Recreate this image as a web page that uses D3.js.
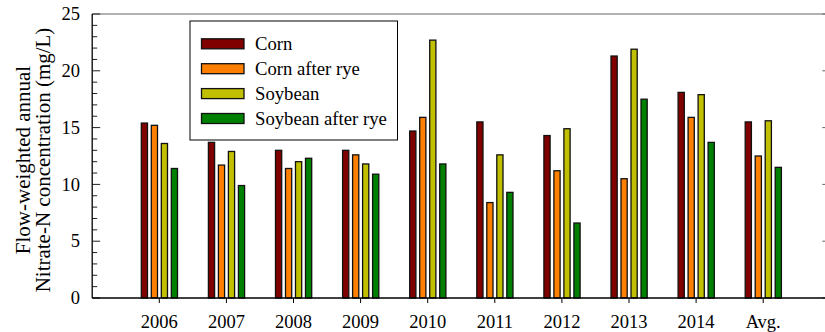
<!DOCTYPE html>
<html>
<head>
<meta charset="utf-8">
<script src="https://cdn.jsdelivr.net/npm/d3@7"></script>
<style>
  html, body { margin: 0; padding: 0; background: #fff; }
  svg { display: block; }
</style>
</head>
<body>
<svg id="chart" width="825" height="332"></svg>
<script>
// Flow-weighted annual nitrate-N concentration (mg/L) by year and cropping system
const categories = ["2006", "2007", "2008", "2009", "2010", "2011", "2012", "2013", "2014", "Avg."];
const seriesNames = ["Corn", "Corn after rye", "Soybean", "Soybean after rye"];
const corn          = [15.4, 13.7, 13.0, 13.0, 14.7, 15.5, 14.3, 21.3, 18.1, 15.5];
const cornAfterRye  = [15.2, 11.7, 11.4, 12.6, 15.9, 8.4, 11.2, 10.5, 15.9, 12.5];
const soybean       = [13.6, 12.9, 12.0, 11.8, 22.7, 12.6, 14.9, 21.9, 17.9, 15.6];
const soyAfterRye   = [11.4, 9.9, 12.3, 10.9, 11.8, 9.3, 6.6, 17.5, 13.7, 11.5];
const yTicks = [0, 5, 10, 15, 20, 25];

const seriesValues = [corn, cornAfterRye, soybean, soyAfterRye];
const colors = ["#800000", "#ff8000", "#c0c000", "#008000"];
const serif = "'Liberation Serif', 'Times New Roman', Times, serif";

const svg = d3.select("#chart");
const plotL = 92.2, plotR = 830.3, plotT = 14, plotB = 298;

// categories sit at positions 1..10 on a 0..11 axis
const x = d3.scaleLinear().domain([0, 11]).range([plotL, plotR]);
const y = d3.scaleLinear().domain([0, 25]).range([plotB, plotT]);

const barW = 6.2, barStep = 10;

// bars
const g = svg.append("g");
seriesValues.forEach((vals, s) => {
  g.selectAll(null)
    .data(vals)
    .enter()
    .append("rect")
    .attr("x", (d, i) => x(i + 1) - 18 + s * barStep)
    .attr("y", d => y(d))
    .attr("width", barW)
    .attr("height", d => y(0) - y(d))
    .attr("fill", colors[s])
    .attr("stroke", "#111")
    .attr("stroke-width", 1.3);
});

// frame: top and right in grey, left and bottom in black
svg.append("line").attr("x1", plotL).attr("x2", plotR).attr("y1", plotT).attr("y2", plotT)
  .attr("stroke", "#666").attr("stroke-width", 1.2);
svg.append("line").attr("x1", plotR).attr("x2", plotR).attr("y1", plotT).attr("y2", plotB)
  .attr("stroke", "#666").attr("stroke-width", 1.2);

// left axis: major ticks every 5, minor every 1, pointing inward
const yAxisG = svg.append("g");
const minor = d3.range(0, 26, 1);
yAxisG.selectAll(null).data(minor).enter().append("line")
  .attr("x1", plotL).attr("x2", d => plotL + (d % 5 === 0 ? 8 : 5))
  .attr("y1", d => y(d)).attr("y2", d => y(d))
  .attr("stroke", "#222").attr("stroke-width", 1);
// right axis ticks mirrored
yAxisG.selectAll(null).data(minor).enter().append("line")
  .attr("x1", plotR).attr("x2", d => plotR - (d % 5 === 0 ? 8 : 5))
  .attr("y1", d => y(d)).attr("y2", d => y(d))
  .attr("stroke", "#666").attr("stroke-width", 1);
yAxisG.append("line").attr("x1", plotL).attr("x2", plotL).attr("y1", plotT).attr("y2", plotB)
  .attr("stroke", "#000").attr("stroke-width", 1.3);
yAxisG.selectAll(null).data(yTicks).enter().append("text")
  .attr("x", 80).attr("y", d => y(d)).attr("dy", "0.33em")
  .attr("text-anchor", "end").attr("font-size", 18.5).attr("font-family", serif).text(d => d);

// bottom axis
const xAxisG = svg.append("g");
xAxisG.append("line").attr("x1", plotL).attr("x2", plotR).attr("y1", plotB).attr("y2", plotB)
  .attr("stroke", "#000").attr("stroke-width", 1.3);
xAxisG.selectAll(null).data(categories).enter().append("line")
  .attr("x1", (d, i) => x(i + 1)).attr("x2", (d, i) => x(i + 1))
  .attr("y1", plotB).attr("y2", plotB + 5)
  .attr("stroke", "#000").attr("stroke-width", 1);
xAxisG.selectAll(null).data(categories).enter().append("text")
  .attr("x", (d, i) => x(i + 1)).attr("y", 328)
  .attr("text-anchor", "middle").attr("font-size", 18.5).attr("font-family", serif).text(d => d);

// y-axis title (two lines)
const titleG = svg.append("g").attr("transform", "translate(0, 160) rotate(-90)");
titleG.append("text").attr("x", 0).attr("y", 30).attr("text-anchor", "middle")
  .attr("font-size", 21).attr("font-family", serif).text("Flow-weighted annual");
titleG.append("text").attr("x", 0).attr("y", 50).attr("text-anchor", "middle")
  .attr("font-size", 21).attr("font-family", serif).text("Nitrate-N concentration (mg/L)");

// legend
const lg = svg.append("g");
lg.append("rect").attr("x", 190).attr("y", 21).attr("width", 207.5).attr("height", 119)
  .attr("fill", "#fff").attr("stroke", "#000").attr("stroke-width", 1);
seriesNames.forEach((name, s) => {
  const cy = 43.8 + s * 24.9;
  lg.append("rect").attr("x", 201.5).attr("y", cy - 5).attr("width", 42.5).attr("height", 10)
    .attr("fill", colors[s]).attr("stroke", "#111").attr("stroke-width", 1.3);
  lg.append("text").attr("x", 255).attr("y", cy).attr("dy", "0.33em")
    .attr("font-size", 18.7).attr("font-family", serif).text(name);
});
</script>
</body>
</html>
